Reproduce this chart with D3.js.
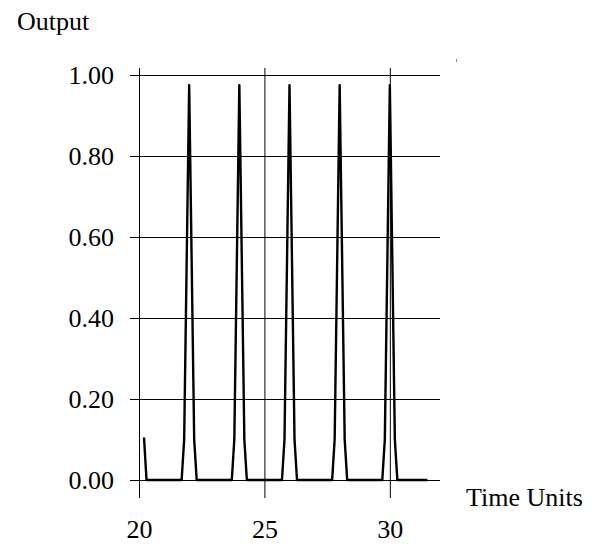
<!DOCTYPE html>
<html>
<head>
<meta charset="utf-8">
<script src="https://cdn.jsdelivr.net/npm/d3@7"></script>
<style>
  html, body { margin: 0; padding: 0; background: #fff; }
  svg { display: block; }
  svg text { font-family: "Liberation Serif", "Times New Roman", Times, serif !important; }
</style>
</head>
<body>
<svg id="chart" width="592" height="544"></svg>
<script>
// Data
const timeValues = [20.2, 20.3, 21.7, 21.8, 22.0, 22.2, 22.3,
                    23.7, 23.8, 24.0, 24.2, 24.3,
                    25.7, 25.8, 26.0, 26.2, 26.3,
                    27.7, 27.8, 28.0, 28.2, 28.3,
                    29.7, 29.8, 30.0, 30.2, 30.3, 31.5];
const outputValues = [0.105, 0, 0, 0.10, 0.975, 0.10, 0,
                      0, 0.10, 0.975, 0.10, 0,
                      0, 0.10, 0.975, 0.10, 0,
                      0, 0.10, 0.975, 0.10, 0,
                      0, 0.10, 0.975, 0.10, 0, 0];
const xTicks = [20, 25, 30];
const yTicks = [0, 0.2, 0.4, 0.6, 0.8, 1.0];
const yTitle = "Output";
const xTitle = "Time Units";

const FONT = '"Liberation Serif", "Times New Roman", Times, serif';
const fontSize = 26;

const svg = d3.select("#chart");
const x = d3.scaleLinear().domain([20, 32]).range([139, 440]);
const y = d3.scaleLinear().domain([0, 1]).range([480, 75]);

// Horizontal grid + y labels
const yAxis = svg.append("g")
  .attr("transform", "translate(130,0)")
  .call(d3.axisLeft(y).tickValues(yTicks).tickSize(-310).tickPadding(16)
        .tickFormat(d3.format(".2f")))
  .attr("font-family", FONT).attr("font-size", fontSize);
yAxis.select(".domain").remove();
yAxis.selectAll(".tick line").attr("stroke", "#000").attr("stroke-width", 1);
yAxis.selectAll(".tick text").style("font-size", fontSize + "px").attr("fill", "#000");

// Vertical grid + x labels
const xAxis = svg.append("g")
  .attr("transform", "translate(0,498)")
  .call(d3.axisBottom(x).tickValues(xTicks).tickSize(-430).tickPadding(22)
        .tickFormat(d3.format("d")))
  .attr("font-family", FONT).attr("font-size", fontSize);
xAxis.select(".domain").remove();
xAxis.selectAll(".tick line").attr("stroke", "#000").attr("stroke-width", 1);
xAxis.selectAll(".tick text").style("font-size", fontSize + "px").attr("fill", "#000");

// Data line
const pts = timeValues.map((t, i) => [t, outputValues[i]]);
svg.append("path")
  .datum(pts)
  .attr("fill", "none")
  .attr("stroke", "#000")
  .attr("stroke-width", 2.4)
  .attr("stroke-linejoin", "round")
  .attr("d", d3.line().x(d => x(d[0])).y(d => y(d[1])));

// Titles
svg.append("text").attr("x", 17).attr("y", 30)
  .style("font-size", fontSize + "px").text(yTitle);
svg.append("text").attr("x", 466).attr("y", 506)
  .style("font-size", fontSize + "px").text(xTitle);

// small stray mark at top right
svg.append("line").attr("x1", 456.5).attr("x2", 456.5).attr("y1", 59).attr("y2", 62)
  .attr("stroke", "#888").attr("stroke-width", 1);
</script>
</body>
</html>
